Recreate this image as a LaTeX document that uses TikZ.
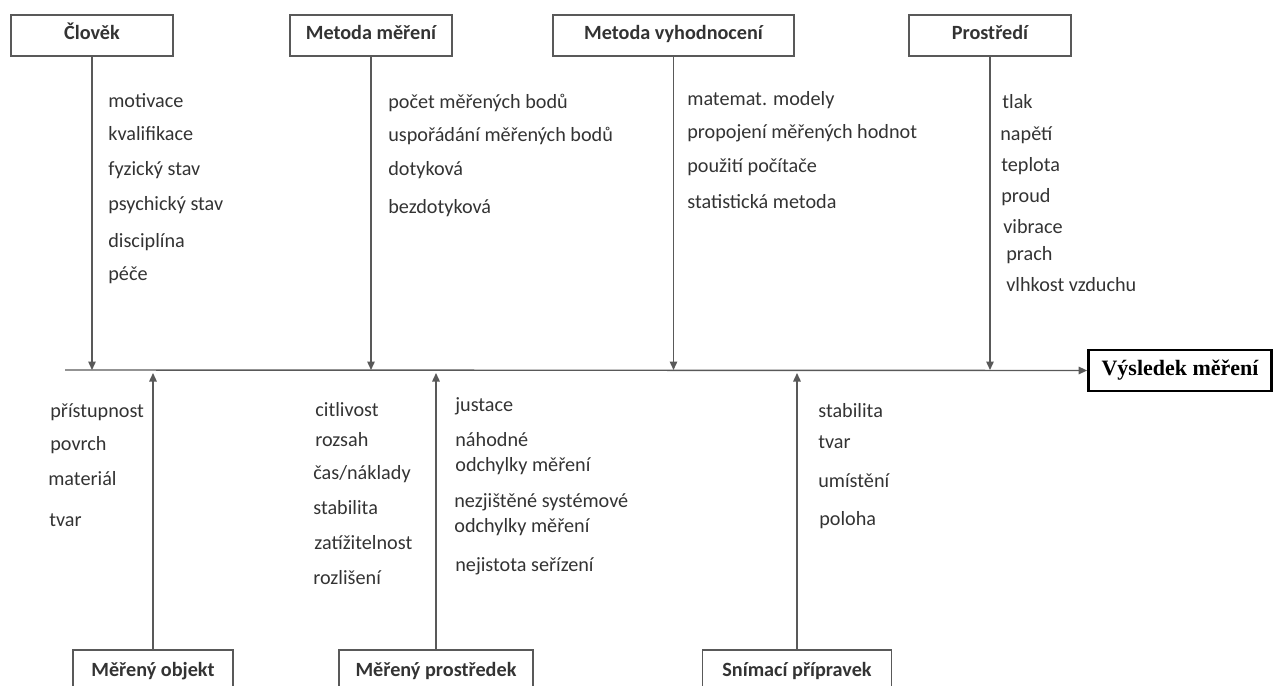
\documentclass[tikz,border=0pt]{standalone}
\usepackage{fontspec}
\setmainfont{Carlito}
\newfontfamily\resultfont{Liberation Serif}
\usetikzlibrary{arrows.meta}

\begin{document}
\begin{tikzpicture}[x=0.02cm,y=-0.02cm,>={Triangle[length=1.7mm,width=1.5mm]},
  every node/.style={font=\fontsize{11.5}{14}\selectfont,text=black!80},
  factor/.style={draw=black!65,line width=0.8pt,minimum width=3.24cm,minimum height=0.82cm,text height=0.72em,text depth=0.22em,font=\fontsize{11.5}{14}\selectfont\bfseries},
  item/.style={anchor=base west,inner sep=0pt},
  branch/.style={draw=black!65,line width=0.8pt,->}]
\clip (0,0) rectangle (1278,686);

\node[factor] (clovek) at (92,35.5) {Člověk};
\node[factor] (metodamereni) at (371,35.5) {Metoda měření};
\node[factor,minimum width=4.82cm] (metodavyhodnoceni) at (673.5,35.5) {Metoda vyhodnocení};
\node[factor] (prostredi) at (990,35.5) {Prostředí};

\node[factor,minimum width=3.2cm,minimum height=0.88cm] (objekt) at (153,672) {Měřený objekt};
\node[factor,minimum width=3.88cm,minimum height=0.88cm] (prostredek) at (436,672) {Měřený prostředek};
\node[factor,minimum width=3.78cm,minimum height=0.88cm] (pripravek) at (797,672) {Snímací přípravek};

\node[draw=black,line width=1.6pt,minimum width=3.66cm,minimum height=0.82cm,font=\resultfont\fontsize{12.5}{15}\selectfont\bfseries,text=black] (vysledek) at (1180,370.5) {Výsledek měření};

\coordinate (spinestart) at (65,370);
\coordinate (cclovek) at (92,370);
\coordinate (cmetodamereni) at (371,370);
\coordinate (cmetodavyhodnoceni) at (673.5,370);
\coordinate (cprostredi) at (990,370);
\coordinate (cobjekt) at (153,373);
\coordinate (cprostredek) at (436,373);
\coordinate (cpripravek) at (797,373);

\draw[branch] (spinestart) -- (vysledek.west);
\draw[branch] (clovek.south) -- (cclovek);
\draw[branch] (metodamereni.south) -- (cmetodamereni);
\draw[branch] (metodavyhodnoceni.south) -- (cmetodavyhodnoceni);
\draw[branch] (prostredi.south) -- (cprostredi);
\draw[branch] (objekt.north) -- (cobjekt);
\draw[branch] (prostredek.north) -- (cprostredek);
\draw[branch] (pripravek.north) -- (cpripravek);

\node[item] (motivace) at (108,108) {motivace};
\node[item] (kvalifikace) at (108,140) {kvalifikace};
\node[item] (fyzicky) at (108,175) {fyzický stav};
\node[item] (psychicky) at (108,210) {psychický stav};
\node[item] (disciplina) at (108,247) {disciplína};
\node[item] (pece) at (108,280) {péče};

\node[item] (pocet) at (388,109) {počet měřených bodů};
\node[item] (usporadani) at (388,141) {uspořádání měřených bodů};
\node[item] (dotykova) at (388,175) {dotyková};
\node[item] (bezdotykova) at (388,213) {bezdotyková};

\node[item] (modely) at (687,106) {matemat. modely};
\node[item] (propojeni) at (687,138) {propojení měřených hodnot};
\node[item] (pocitace) at (687,173) {použití počítače};
\node[item] (statisticka) at (687,208) {statistická metoda};

\node[item] (tlak) at (1002,109) {tlak};
\node[item] (napeti) at (1000,140) {napětí};
\node[item] (teplota) at (1001,172) {teplota};
\node[item] (proud) at (1001,202) {proud};
\node[item] (vibrace) at (1003,233) {vibrace};
\node[item] (prach) at (1006,260) {prach};
\node[item] (vlhkost) at (1006,291) {vlhkost vzduchu};

\node[item] (pristupnost) at (50,417) {přístupnost};
\node[item] (povrch) at (50,450) {povrch};
\node[item] (material) at (48,485) {materiál};
\node[item] (tvarobjekt) at (49,526) {tvar};

\node[item] (citlivost) at (315,416) {citlivost};
\node[item] (rozsah) at (315,446) {rozsah};
\node[item] (naklady) at (313,479) {čas/náklady};
\node[item] (stabilitaprostredek) at (313,514) {stabilita};
\node[item] (zatizitelnost) at (314,549) {zatížitelnost};
\node[item] (rozliseni) at (313,584) {rozlišení};

\node[item] (justace) at (455,411) {justace};
\node[item] (nahodne) at (455,446) {náhodné};
\node[item] (nahodneodchylky) at (455,471) {odchylky měření};
\node[item] (nezjistene) at (454,507) {nezjištěné systémové};
\node[item] (nezjisteneodchylky) at (454,532) {odchylky měření};
\node[item] (nejistota) at (455,571) {nejistota seřízení};

\node[item] (stabilitapripravek) at (818,417) {stabilita};
\node[item] (tvarpripravek) at (818,448) {tvar};
\node[item] (umisteni) at (818,487) {umístění};
\node[item] (poloha) at (819,525) {poloha};
\end{tikzpicture}
\end{document}
